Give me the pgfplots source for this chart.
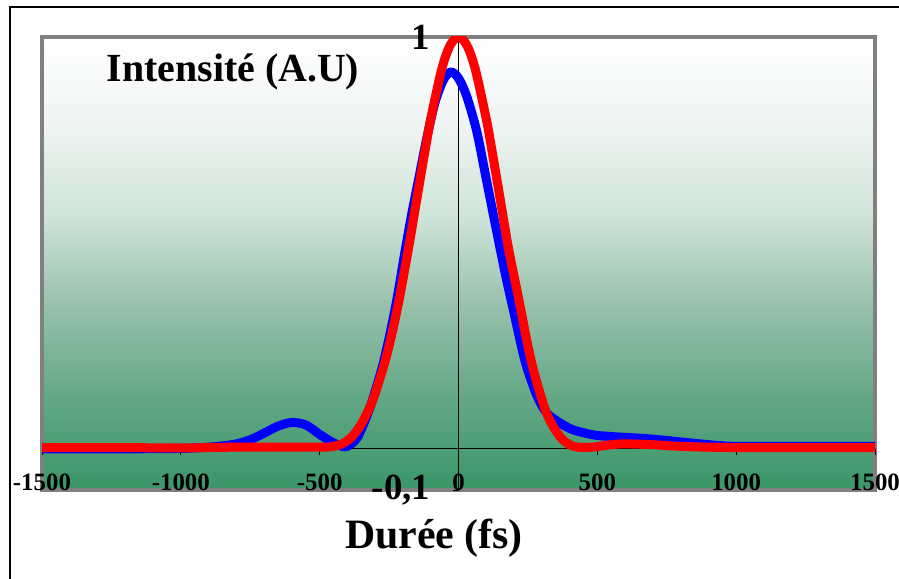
\documentclass[border=0pt]{standalone}
\usepackage{fontspec}
\setmainfont{Liberation Serif}
\usepackage{pgfplots}
\pgfplotsset{compat=1.18}
\definecolor{g0}{RGB}{58,150,105}
\definecolor{g1}{RGB}{98,167,132}
\definecolor{g2}{RGB}{150,192,170}
\definecolor{g3}{RGB}{206,227,216}
\definecolor{g4}{RGB}{238,244,241}
\definecolor{g5}{RGB}{255,255,255}
\definecolor{framegray}{RGB}{128,128,128}
\pgfdeclareverticalshading{bgshade}{100bp}{color(0bp)=(g0); color(25bp)=(g0); color(35bp)=(g1); color(45bp)=(g2); color(55bp)=(g3); color(65bp)=(g4); color(75bp)=(g5); color(100bp)=(g5)}
\begin{document}
\begin{tikzpicture}
\path[use as bounding box] (0,0) rectangle (899bp,579bp);
\begin{axis}[
 name=ax, at={(42bp,89bp)}, anchor=south west,
 scale only axis, width=833bp, height=453bp,
 xmin=-1500, xmax=1500, ymin=-0.1, ymax=1,
 axis lines=middle, axis line style={-, black, line width=0.8bp},
 axis background/.style={shade, shading=bgshade, draw=framegray, line width=4bp},
 xtick={-1500,-1000,-500,0,500,1000,1500},
 xticklabels={-1500,-1000,-500,0,500,1000,1500},
 ytick={-0.1,1}, yticklabels={{-0,1},1},
 hide obscured x ticks=false, hide obscured y ticks=false,
 tick align=outside, major tick length=6bp, tick style={black, line width=0.8bp},
 xticklabel style={font=\fontsize{25}{27}\selectfont\bfseries, anchor=center, yshift=-28bp, inner sep=0pt},
 yticklabel style={font=\fontsize{37}{40}\selectfont\bfseries, anchor=east, inner sep=0pt, xshift=-22bp},
 every axis x label/.style={at={(axis description cs:0.4706,-0.106)}, anchor=center, font=\fontsize{42}{46}\selectfont\bfseries},
 every axis y label/.style={at={(axis description cs:0.2293,0.9227)}, anchor=center, font=\fontsize{40}{44}\selectfont\bfseries},
 xlabel={Durée (fs)}, ylabel={Intensité (A.U)},
 clip=true,
]
\addplot[blue, line width=9bp, smooth, line join=round, line cap=round] coordinates {
(-1500,0.0) (-1200,0.0) (-1000,0.001) (-900,0.004) (-850,0.007) (-800,0.012)
(-750,0.022) (-700,0.038) (-650,0.055) (-600,0.064) (-550,0.058) (-500,0.035)
(-460,0.018) (-430,0.008) (-410,0.005) (-390,0.01) (-362,0.03) (-326,0.087)
(-300,0.14) (-272,0.205) (-245,0.285) (-220,0.37) (-195,0.47) (-170,0.565)
(-145,0.65) (-114,0.755) (-85,0.84) (-55,0.895) (-28,0.915) (0,0.9) (30,0.855)
(66,0.77) (100,0.655) (137,0.53) (170,0.42) (200,0.33) (240,0.212) (282,0.13)
(318,0.087) (365,0.063) (413,0.046) (485,0.034) (546,0.03) (690,0.024)
(870,0.012) (990,0.006) (1200,0.006) (1500,0.006)
};
\addplot[red, line width=9bp, smooth, line join=round, line cap=round] coordinates {
(-1500,0.003) (-1200,0.003) (-1000,0.002) (-800,0.004) (-500,0.004) (-450,0.006)
(-420,0.012) (-400,0.02) (-380,0.032) (-350,0.06) (-320,0.10) (-300,0.135)
(-260,0.223) (-220,0.341) (-180,0.487) (-150,0.607) (-120,0.726) (-100,0.801)
(-60,0.923) (-30,0.98) (0,1.0) (30,0.98) (60,0.923) (100,0.801) (120,0.726)
(150,0.607) (180,0.487) (215,0.37) (263,0.21) (317,0.087) (365,0.03) (400,0.01)
(430,0.004) (480,0.004) (550,0.01) (600,0.012) (700,0.01) (800,0.006)
(1000,0.003) (1500,0.003)
};
\end{axis}
\draw[black, line width=1.5bp] (10bp,0) -- (10bp,572bp) -- (899bp,572bp);
\end{tikzpicture}
\end{document}
